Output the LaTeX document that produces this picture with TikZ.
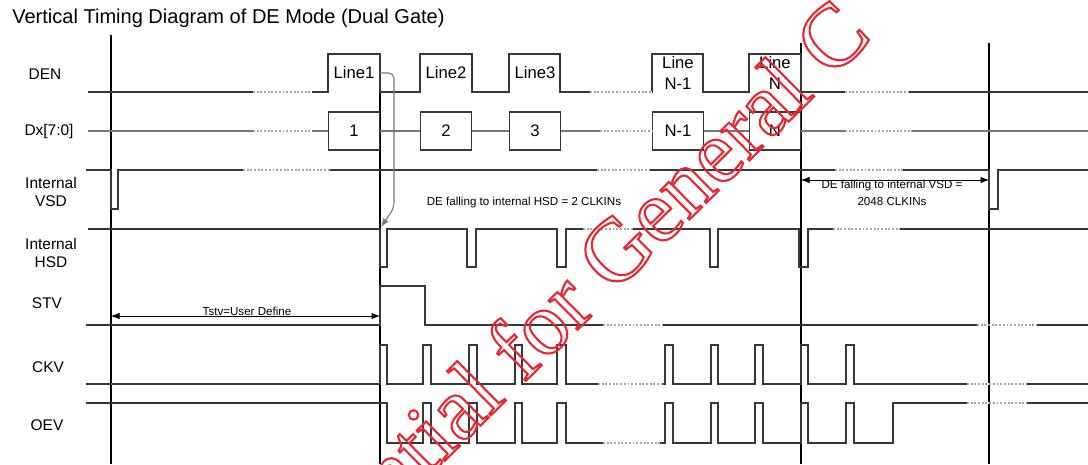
\documentclass[tikz,border=0pt]{standalone}
\usepackage{fontspec}
\setmainfont{Liberation Sans}
\newfontfamily\stampfont{Liberation Serif}
\usetikzlibrary{arrows.meta,positioning}
\definecolor{wavec}{RGB}{55,55,55}
\definecolor{basec}{RGB}{120,120,120}
\definecolor{dotc}{RGB}{165,165,165}
\definecolor{stampc}{RGB}{228,40,52}
\newcommand{\wbreak}[3]{%
  \draw[gapw] (#1,#3) -- (#2,#3);
  \draw[dotw] (#1,#3) -- (#2,#3);}
\newcommand{\outl}{\special{pdf:literal direct 1 Tr 1.2 w}}
\tikzset{
  wave/.style={wavec, line width=0.8pt, line join=miter},
  dline/.style={basec, line width=0.6pt},
  tline/.style={black, line width=0.7pt},
  gapw/.style={white, line width=1.6pt},
  dotw/.style={dotc, line width=1.1pt, densely dotted},
  dbox/.style={draw=wavec, line width=0.8pt, minimum width=1.02cm, minimum height=0.76cm,
      inner sep=0pt, font=\fontsize{9.5}{12}\selectfont},
  btxt/.style={align=center, inner sep=0pt, font=\fontsize{9.5}{12}\selectfont},
  slab/.style={align=center, inner sep=0pt, font=\fontsize{8.8}{10.2}\selectfont},
  note/.style={align=center, inner sep=0pt, font=\fontsize{6.6}{9.6}\selectfont},
  dim/.style={{Latex[length=1.7mm,width=1.3mm]}-{Latex[length=1.7mm,width=1.3mm]}, black, line width=0.5pt},
  lnk/.style={-{Latex[length=1.7mm,width=1.3mm]}, basec, line width=0.6pt, rounded corners=3pt},
  stampst/.style={inner sep=0pt, text=stampc, font=\stampfont\fontsize{51}{56}\selectfont},
}
\begin{document}
\begin{tikzpicture}[x=0.02cm,y=-0.02cm]
\useasboundingbox (0,0) rectangle (1088,464);
\node[anchor=west, inner sep=0pt, font=\fontsize{11.4}{13}\selectfont] (title) at (12,18)
     {Vertical Timing Diagram of DE Mode (Dual Gate)};
\node[slab] (lden) at (45,74) {DEN};
\node[slab] (ldx) at (49,131) {Dx[7:0]};
\node[slab] (lvsd) at (51,192) {Internal\\VSD};
\node[slab] (lhsd) at (51,253) {Internal\\HSD};
\node[slab] (lstv) at (47,303) {STV};
\node[slab] (lckv) at (48,367) {CKV};
\node[slab] (loev) at (47,425) {OEV};
\draw[tline] (111,35) -- (111,464);
\draw[tline] (380,54) -- (380,464);
\draw[tline] (801,43) -- (801,464);
\draw[tline] (989,43) -- (989,464);
\draw[wave] (88,92) foreach \a/\b in {328/380,420/472,509/560,652/703,749/801}
     { -- (\a,92) -- (\a,54) -- (\b,54) -- (\b,92) } -- (1088,92);
\node[btxt] (l1) at (354,73) {Line1};
\node[btxt] (l2) at (446,73) {Line2};
\node[btxt] (l3) at (535,73) {Line3};
\node[btxt] (lm) at (678,73) {Line\\N-1};
\node[btxt] (ln) at (775,73) {Line\\N};
\node[dbox] (d1) at (354,131) {1};
\node[dbox] (d2) at (446,131) {2};
\node[dbox] (d3) at (535,131) {3};
\node[dbox] (dm) at (678,131) {N-1};
\node[dbox] (dn) at (775,131) {N};
\draw[dline] (88,131) -- (d1.west);
\draw[dline] (d1.east) -- (d2.west);
\draw[dline] (d2.east) -- (d3.west);
\draw[dline] (d3.east) -- (dm.west);
\draw[dline] (dm.east) -- (dn.west);
\draw[dline] (dn.east) -- (1088,131);
\draw[wave] (86,170) -- (111,170) -- (111,209) -- (118,209) -- (118,170) -- (989,170)
     -- (989,209) -- (998,209) -- (998,170) -- (1088,170);
\draw[wave] (88,229) foreach \a/\b in {380/387,467/476,557/566,710/718,799/808}
     { -- (\a,229) -- (\a,267) -- (\b,267) -- (\b,229) } -- (1088,229);
\draw[wave] (86,325) -- (380,325) -- (380,286) -- (425,286) -- (425,325) -- (1088,325);
\draw[wave] (86,384) foreach \a/\b in {380/387,423/431,469/477,515/522,557/566,665/673,711/718,755/763,801/808,846/854}
     { -- (\a,384) -- (\a,345) -- (\b,345) -- (\b,384) } -- (1088,384);
\draw[wave] (86,403) -- (387,403) -- (387,443) foreach \a/\b in {423/431,469/477,515/522,557/566,665/673,711/718,755/763,801/808,846/854}
     { -- (\a,443) -- (\a,403) -- (\b,403) -- (\b,443) } -- (893,443) -- (893,403) -- (1088,403);
\wbreak{253}{312}{92} \wbreak{590}{652}{92} \wbreak{845}{908}{92}
\wbreak{253}{312}{131} \wbreak{600}{652}{131} \wbreak{845}{912}{131}
\wbreak{243}{330}{170} \wbreak{597}{650}{170} \wbreak{835}{903}{170}
\wbreak{583}{633}{229} \wbreak{833}{900}{229}
\wbreak{603}{663}{325} \wbreak{977}{1037}{325}
\wbreak{598}{663}{384} \wbreak{967}{1027}{384}
\wbreak{603}{660}{443} \wbreak{967}{1027}{403}
\coordinate (k0) at (380,73);
\coordinate (k1) at (394,73);
\coordinate (k2) at (394,208);
\coordinate (k3) at (381,227);
\draw[lnk] (k0) -- (k1) -- (k2) -- (k3);
\node[note] (nhsd) at (524,202) {DE falling to internal HSD = 2 CLKINs};
\coordinate (v0) at (801,180);
\coordinate (v1) at (989,180);
\draw[dim] (v0) -- (v1);
\node[note] (nvsd) at (892,193) {DE falling to internal VSD =\\2048 CLKINs};
\coordinate (t0) at (111,316);
\coordinate (t1) at (380,316);
\draw[dim] (t0) -- (t1);
\node[note] (nstv) at (247,311) {Tstv=User Define};
\begin{scope}
  \clip (0,0) rectangle (1088,464);
  \node[stampst, anchor=base west, rotate=44.6] (stamp) at (188,714) {\outl Confidential for General C};
\end{scope}
\end{tikzpicture}
\end{document}
